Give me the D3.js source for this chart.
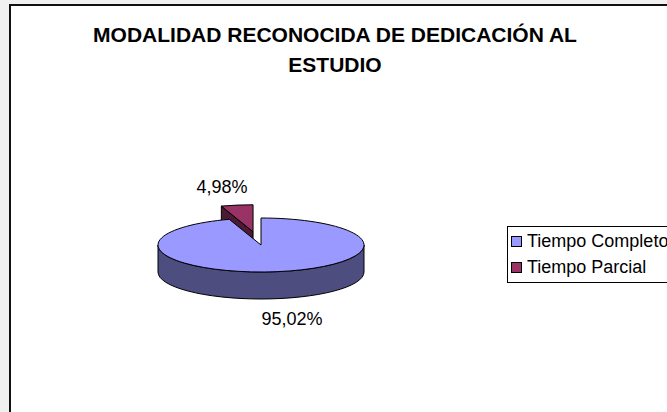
<!DOCTYPE html>
<html><head><meta charset="utf-8">
<script src="https://cdn.jsdelivr.net/npm/d3@7"></script>
<style>html,body{margin:0;padding:0;background:#f0f0f0;}svg{display:block;}</style>
</head><body>
<svg id="c" width="667" height="412"></svg>
<script>
const categories = ["Tiempo Completo", "Tiempo Parcial"];
const values = [95.02, 4.98];
const labels = ["95,02%", "4,98%"];
const titleLines = ["MODALIDAD RECONOCIDA DE DEDICACIÓN AL", "ESTUDIO"];

const topColors = ["#9999ff", "#993366"];
const sideColors = ["#4d4d80", "#4d1a33"];

const svg = d3.select("#c");
svg.append("rect").attr("x", 10).attr("y", 5).attr("width", 700).attr("height", 450)
  .attr("fill", "#fff").attr("stroke", "#111").attr("stroke-width", 2);

svg.append("g").selectAll("text").data(titleLines).join("text")
  .attr("x", 335).attr("y", (d, i) => 42 + i * 30)
  .attr("text-anchor", "middle")
  .attr("font-family", "Liberation Sans, Arial, sans-serif")
  .attr("font-weight", "bold").attr("font-size", 21)
  .attr("fill", "#000").text(d => d);

const cx = 261, cy = 245, rx = 103, ry = 27, depth = 27, explode = 51;
const pie = d3.pie().sort(null).value(d => d);
const arcs = pie(values);

const pt = (a, ox = 0, oy = 0, r = 1) => [ox + rx * r * Math.sin(a), oy - ry * r * Math.cos(a)];

const g = svg.append("g").attr("stroke", "#000").attr("stroke-width", 1).attr("stroke-linejoin", "round");

// exploded small slice (at back) drawn first
const s = arcs[1];
const mid = (s.startAngle + s.endAngle) / 2;
const tx = cx + explode * Math.sin(mid), ty = cy - explode * Math.cos(mid) * (ry / rx);
const p1 = pt(s.startAngle, tx, ty), p2 = pt(s.endAngle, tx, ty);
g.append("path").attr("fill", sideColors[1])
  .attr("d", `M${tx},${ty} L${p1[0]},${p1[1]} L${p1[0]},${p1[1] + depth} L${tx},${ty + depth} Z`);
g.append("path").attr("fill", topColors[1])
  .attr("d", `M${tx},${ty} L${p1[0]},${p1[1]} A${rx},${ry} 0 0 1 ${p2[0]},${p2[1]} Z`);

// main slice
const m = arcs[0];
g.append("path").attr("fill", sideColors[0])
  .attr("d", `M${cx + rx},${cy} A${rx},${ry} 0 0 1 ${cx - rx},${cy} L${cx - rx},${cy + depth} A${rx},${ry} 0 0 0 ${cx + rx},${cy + depth} Z`);
const a0 = pt(m.startAngle, cx, cy), a1 = pt(m.endAngle, cx, cy);
g.append("path").attr("fill", topColors[0])
  .attr("d", `M${cx},${cy} L${a0[0]},${a0[1]} A${rx},${ry} 0 1 1 ${a1[0]},${a1[1]} Z`);

// labels
const lab = svg.append("g").attr("font-family", "Liberation Sans, Arial, sans-serif")
  .attr("font-size", 18).attr("fill", "#000").attr("text-anchor", "middle");
const mm = (m.startAngle + m.endAngle) / 2;
const lm = pt(mm, cx, cy + depth);
lab.append("text").attr("x", lm[0] + 15).attr("y", lm[1] + 26).text(labels[0]);
const ls = pt(mid, tx, ty);
lab.append("text").attr("x", ls[0] - 15).attr("y", ls[1] - 12).text(labels[1]);

// legend
const lg = svg.append("g");
lg.append("rect").attr("x", 507.5).attr("y", 226.5).attr("width", 200).attr("height", 56)
  .attr("fill", "#fff").attr("stroke", "#000");
const items = lg.selectAll("g").data(categories).join("g")
  .attr("transform", (d, i) => `translate(511,${236 + i * 26})`);
items.append("rect").attr("x", 0.5).attr("y", 0.5).attr("width", 10).attr("height", 10)
  .attr("fill", (d, i) => topColors[i]).attr("stroke", "#000");
items.append("text").attr("x", 16).attr("y", 11)
  .attr("font-family", "Liberation Sans, Arial, sans-serif").attr("font-size", 18)
  .attr("fill", "#000").text(d => d);
</script>
</body></html>
